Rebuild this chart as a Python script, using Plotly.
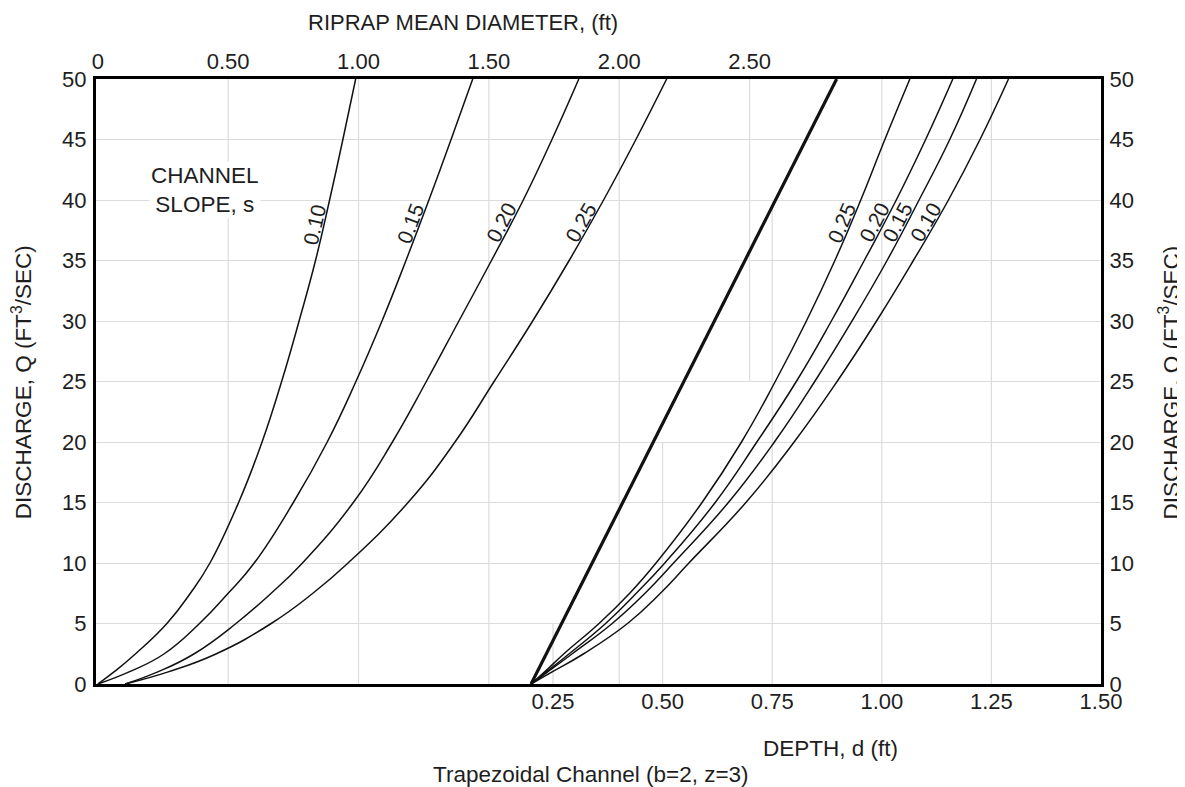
import math
import numpy as np
import plotly.graph_objects as go

# ---------------- data ----------------
discharge = [0, 1, 2.5, 5, 7.5, 10, 15, 20, 25, 30, 35, 40, 45, 50]
slopes = ["0.10", "0.15", "0.20", "0.25"]

# riprap mean diameter (ft) vs discharge, per channel slope (top axis)
riprap_s010 = [0.0, 0.062, 0.145, 0.265, 0.355, 0.430, 0.540, 0.630, 0.705, 0.772, 0.835, 0.889, 0.940, 0.989]
riprap_s015 = [0.0, 0.120, 0.255, 0.390, 0.500, 0.600, 0.750, 0.880, 0.990, 1.090, 1.182, 1.270, 1.355, 1.438]
riprap_s020 = [0.105, 0.230, 0.370, 0.530, 0.665, 0.785, 0.980, 1.130, 1.260, 1.385, 1.510, 1.632, 1.742, 1.845]
riprap_s025 = [0.105, 0.270, 0.455, 0.665, 0.825, 0.960, 1.190, 1.370, 1.520, 1.668, 1.808, 1.940, 2.064, 2.182]

# flow depth (ft) vs discharge, per channel slope (bottom axis)
depth_s010 = [0.20, 0.248, 0.320, 0.420, 0.495, 0.560, 0.690, 0.800, 0.898, 0.988, 1.072, 1.152, 1.224, 1.289]
depth_s015 = [0.20, 0.238, 0.294, 0.385, 0.460, 0.525, 0.650, 0.755, 0.847, 0.932, 1.012, 1.085, 1.155, 1.216]
depth_s020 = [0.20, 0.235, 0.287, 0.370, 0.440, 0.505, 0.620, 0.715, 0.805, 0.885, 0.960, 1.033, 1.100, 1.162]
depth_s025 = [0.20, 0.231, 0.275, 0.355, 0.425, 0.485, 0.590, 0.680, 0.757, 0.828, 0.893, 0.952, 1.007, 1.064]

# bold guide line (depth vs discharge)
guide_discharge = [0, 50]
guide_depth = [0.20, 0.897]

# axis ticks
depth_ticks = [0.25, 0.50, 0.75, 1.00, 1.25, 1.50]
depth_ticktext = ["0.25", "0.50", "0.75", "1.00", "1.25", "1.50"]
riprap_ticks = [0, 0.5, 1.0, 1.5, 2.0, 2.5]
riprap_ticktext = ["0", "0.50", "1.00", "1.50", "2.00", "2.50"]
discharge_ticks = list(range(0, 55, 5))

# vertical grid lines: (value, Q from, Q to)
riprap_grid = [(0.5, 0, 50), (1.0, 0, 50), (1.5, 0, 50), (2.0, 0, 50), (2.5, 25, 50)]
depth_grid = [(0.25, 0, 5), (0.50, 0, 20), (0.75, 0, 40), (1.00, 0, 50), (1.25, 0, 50)]

label_discharge = 37.8

riprap = dict(zip(slopes, [riprap_s010, riprap_s015, riprap_s020, riprap_s025]))
depth = dict(zip(slopes, [depth_s010, depth_s015, depth_s020, depth_s025]))

# ---------------- layout constants ----------------
# page body has an 8px margin at left/top; figure sized so the page is 1185x787
W, H = 1177, 779
M = dict(l=88, r=84, t=71, b=103)
PW, PH = W - M["l"] - M["r"], H - M["t"] - M["b"]
depth_range = [-0.7924, 1.5]
riprap_range = [-0.007, 3.848]
q_range = [0, 50]

FONT = "Liberation Sans, Arial, Helvetica, sans-serif"
TXT = "#1e1e1e"
FS = 22
LINE = "#111111"
GRID = "#dcdcdc"

px_q = PH / (q_range[1] - q_range[0])
px_rip = PW / (riprap_range[1] - riprap_range[0])
px_dep = PW / (depth_range[1] - depth_range[0])

fig = go.Figure()

for s in slopes:
    fig.add_trace(go.Scatter(x=riprap[s], y=discharge, xaxis="x2", yaxis="y", mode="lines",
                             line=dict(color=LINE, width=1.5, shape="spline", smoothing=1.3),
                             hoverinfo="skip", showlegend=False))
for s in slopes:
    fig.add_trace(go.Scatter(x=depth[s], y=discharge, xaxis="x", yaxis="y", mode="lines",
                             line=dict(color=LINE, width=1.5, shape="spline", smoothing=1.3),
                             hoverinfo="skip", showlegend=False))
fig.add_trace(go.Scatter(x=guide_depth, y=guide_discharge, xaxis="x", yaxis="y", mode="lines",
                         line=dict(color=LINE, width=3.2), hoverinfo="skip", showlegend=False))
# invisible trace to activate right axis
fig.add_trace(go.Scatter(x=guide_depth, y=guide_discharge, xaxis="x", yaxis="y2", mode="lines",
                         line=dict(color="rgba(0,0,0,0)", width=0), hoverinfo="skip", showlegend=False))

shapes = []
for v, q0, q1 in riprap_grid:
    shapes.append(dict(type="line", xref="x2", yref="y", x0=v, x1=v, y0=q0, y1=q1,
                       line=dict(color=GRID, width=1.2), layer="below"))
for v, q0, q1 in depth_grid:
    shapes.append(dict(type="line", xref="x", yref="y", x0=v, x1=v, y0=q0, y1=q1,
                       line=dict(color=GRID, width=1.2), layer="below"))

annotations = []


def curve_label(xs, text, xref, pxx):
    xs = np.asarray(xs, float)
    qs = np.asarray(discharge, float)
    x0 = float(np.interp(label_discharge, qs, xs))
    xa = float(np.interp(label_discharge - 2.5, qs, xs))
    xb = float(np.interp(label_discharge + 2.5, qs, xs))
    dx = (xb - xa) * pxx
    dy = 5.0 * px_q
    theta = math.atan2(dy, dx)
    off = 9.0
    annotations.append(dict(x=x0, y=label_discharge, xref=xref, yref="y", text=text,
                            showarrow=False, textangle=-math.degrees(theta),
                            xanchor="center", yanchor="middle",
                            xshift=-off * math.sin(theta), yshift=off * math.cos(theta),
                            font=dict(family=FONT, size=FS - 1, color=TXT)))


for s in slopes:
    curve_label(riprap[s], s, "x2", px_rip)
    curve_label(depth[s], s, "x", px_dep)


def title(text, x, y, size, angle=0, bg=None):
    d = dict(text=text, xref="paper", yref="paper", x=x, y=y, showarrow=False,
             xanchor="center", yanchor="middle", textangle=angle, align="center",
             font=dict(family=FONT, size=size, color=TXT))
    if bg:
        d["bgcolor"] = bg
    return d


annotations += [
    title("CHANNEL<br>SLOPE, s", 0.1085, 0.8165, 22.5, bg="white"),
    title("RIPRAP MEAN DIAMETER, (ft)", 0.365, 1.094, 22),
    title("DEPTH, d (ft)", 0.731, -0.106, 22.5),
    title("Trapezoidal Channel (b=2, z=3)", 0.4925, -0.150, 22.5),
    title("DISCHARGE, Q (FT<sup>3</sup>/SEC)", -0.0736, 0.499, 22.5, angle=-90),
    title("DISCHARGE, Q (FT<sup>3</sup>/SEC)", 1.068, 0.499, 22.5, angle=-90),
]

axis_common = dict(showline=True, linecolor="black", linewidth=3, zeroline=False, ticks="",
                   tickfont=dict(family=FONT, size=FS, color=TXT), fixedrange=True)

fig.update_layout(
    width=W, height=H, margin=M, autosize=False,
    paper_bgcolor="white", plot_bgcolor="white",
    showlegend=False,
    xaxis=dict(range=depth_range, tickmode="array", tickvals=depth_ticks, ticktext=depth_ticktext,
               showgrid=False, side="bottom", ticklabelstandoff=-4, **axis_common),
    xaxis2=dict(range=riprap_range, tickmode="array", tickvals=riprap_ticks, ticktext=riprap_ticktext,
                showgrid=False, side="top", overlaying="x", ticklabelstandoff=-2, **axis_common),
    yaxis=dict(range=q_range, tickmode="array", tickvals=discharge_ticks, showgrid=True,
               gridcolor=GRID, gridwidth=1.2, side="left", ticklabelstandoff=2, **axis_common),
    yaxis2=dict(range=q_range, tickmode="array", tickvals=discharge_ticks, showgrid=False,
                side="right", overlaying="y", ticklabelstandoff=1, **axis_common),
    shapes=shapes,
    annotations=annotations,
)

fig.write_html("out.html")
